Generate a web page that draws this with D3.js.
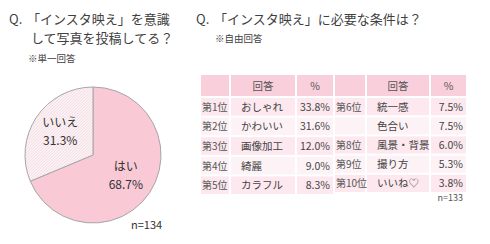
<!DOCTYPE html>
<html>
<head>
<meta charset="utf-8">
<script src="https://cdn.jsdelivr.net/npm/d3@7"></script>
<style>
  body { margin: 0; background: #fff; }
  svg text { font-family: "Noto Sans CJK JP", "Noto Sans", sans-serif; }
</style>
</head>
<body>
<div id="chart"></div>
<script>
const pieLabels = ["はい", "いいえ"];
const pieValues = [68.7, 31.3];
const pieN = "n=134";

const leftRanks = ["第1位", "第2位", "第3位", "第4位", "第5位"];
const leftAnswers = ["おしゃれ", "かわいい", "画像加工", "綺麗", "カラフル"];
const leftPercents = [33.8, 31.6, 12.0, 9.0, 8.3];

const rightRanks = ["第6位", "", "第8位", "第9位", "第10位"];
const rightAnswers = ["統一感", "色合い", "風景・背景", "撮り方", "いいね♡"];
const rightPercents = [7.5, 7.5, 6.0, 5.3, 3.8];
const tableN = "n=133";

const headers = ["", "回答", "%"];

const width = 490, height = 244;
const svg = d3.select("#chart").append("svg")
    .attr("width", width)
    .attr("height", height);

// hatch pattern for "いいえ"
const defs = svg.append("defs");
const pat = defs.append("pattern")
    .attr("id", "hatch")
    .attr("patternUnits", "userSpaceOnUse")
    .attr("width", 3)
    .attr("height", 3);
pat.append("rect").attr("width", 3).attr("height", 3).attr("fill", "#fbf0f3");
pat.append("path").attr("d", "M0,3 L3,0").attr("stroke", "#f0d3dc").attr("stroke-width", 0.6);

// titles
const textColor = "#404040";
function title(x, y, lines, note, noteX, noteY) {
    svg.append("text").attr("x", x).attr("y", y)
        .attr("font-size", 13).attr("fill", textColor).text("Q.");
    lines.forEach((l, i) => {
        svg.append("text").attr("x", x + (i === 0 ? 18 : 22)).attr("y", y + i * 19)
            .attr("font-size", 13).attr("fill", textColor).text(l);
    });
    svg.append("text").attr("x", noteX).attr("y", noteY)
        .attr("font-size", 9.5).attr("fill", textColor).text(note);
}
title(9, 24, ["「インスタ映え」を意識", "して写真を投稿してる？"], "※単一回答", 28, 62);
title(196, 24, ["「インスタ映え」に必要な条件は？"], "※自由回答", 215, 42);

// pie
const cx = 93, cy = 155, R = 68;
const pie = d3.pie().sort(null).value(d => d);
const arcs = pie(pieValues);
const arc = d3.arc().innerRadius(0).outerRadius(R);
const labelArc = d3.arc().innerRadius(R * 0.58).outerRadius(R * 0.58);
const pieColors = ["#f9c9d6", "url(#hatch)"];

const pg = svg.append("g").attr("transform", `translate(${cx},${cy})`);
pg.selectAll("path.slice").data(arcs).enter().append("path")
    .attr("class", "slice")
    .attr("d", arc)
    .attr("fill", (d, i) => pieColors[i])
    .attr("stroke", "#a6a6a6")
    .attr("stroke-width", 1);

pg.selectAll("g.lbl").data(arcs).enter().append("g")
    .attr("class", "lbl")
    .attr("transform", d => {
        const [x, y] = labelArc.centroid(d);
        return `translate(${x},${y})`;
    })
    .each(function (d, i) {
        const g = d3.select(this);
        g.append("text").attr("text-anchor", "middle").attr("y", -6)
            .attr("font-size", 12).attr("fill", "#333").text(pieLabels[i]);
        g.append("text").attr("text-anchor", "middle").attr("y", 12)
            .attr("font-size", 12).attr("fill", "#333").text(pieValues[i].toFixed(1) + "%");
    });

svg.append("text").attr("x", 131).attr("y", 229)
    .attr("font-size", 11).attr("fill", "#333").text(pieN);

// tables
function drawTable(x0, colWidths, y0, headH, rowH, ranks, answers, percents) {
    const colX = d3.scaleOrdinal().domain([0, 1, 2])
        .range([x0, x0 + colWidths[0], x0 + colWidths[0] + colWidths[1]]);
    const y = d3.scaleBand()
        .domain(d3.range(ranks.length))
        .range([y0 + headH, y0 + headH + rowH * ranks.length])
        .paddingInner(0);
    const gap = 2;
    const g = svg.append("g");

    // header
    headers.forEach((h, c) => {
        g.append("rect")
            .attr("x", colX(c)).attr("y", y0)
            .attr("width", colWidths[c] - gap).attr("height", headH - gap)
            .attr("fill", "#f9cfdc");
        g.append("text")
            .attr("x", colX(c) + (colWidths[c] - gap) / 2)
            .attr("y", y0 + (headH - gap) / 2 + 4)
            .attr("text-anchor", "middle")
            .attr("font-size", 10.5).attr("fill", "#555").text(h);
    });

    ranks.forEach((r, i) => {
        const fill = i % 2 === 0 ? "#fce8ee" : "#fdf3f6";
        colWidths.forEach((w, c) => {
            g.append("rect")
                .attr("x", colX(c)).attr("y", y(i))
                .attr("width", w - gap).attr("height", y.bandwidth() - gap)
                .attr("fill", fill);
        });
        const ty = y(i) + (y.bandwidth() - gap) / 2 + 4;
        g.append("text").attr("x", colX(0) + 1).attr("y", ty)
            .attr("font-size", 10).attr("fill", "#555").text(r);
        g.append("text").attr("x", colX(1) + 10).attr("y", ty)
            .attr("font-size", 10.5).attr("fill", "#444").text(answers[i]);
        g.append("text").attr("x", colX(2) + colWidths[2] - gap - 3).attr("y", ty)
            .attr("text-anchor", "end")
            .attr("font-size", 10.5).attr("fill", "#444").text(percents[i].toFixed(1) + "%");
    });
    return colX(2) + colWidths[2] - gap - 3;
}

drawTable(201, [30, 66, 38], 75, 23, 19.6, leftRanks, leftAnswers, leftPercents);
const rEnd = drawTable(335, [32, 64, 37], 75, 23, 19.2, rightRanks, rightAnswers, rightPercents);

svg.append("text").attr("x", rEnd).attr("y", 201)
    .attr("text-anchor", "end")
    .attr("font-size", 9).attr("fill", "#555").text(tableN);
</script>
</body>
</html>
